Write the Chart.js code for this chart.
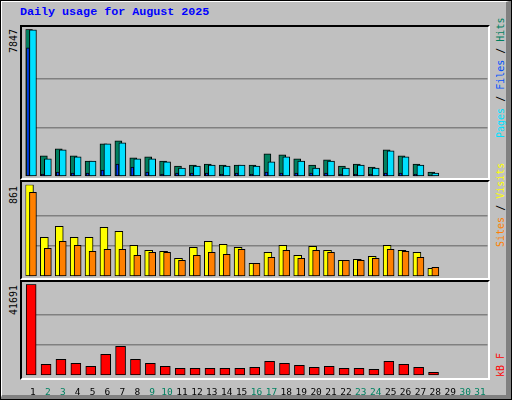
<!DOCTYPE html>
<html>
<head>
<meta charset="utf-8">
<script src="https://cdn.jsdelivr.net/npm/chart.js@4"></script>
<style>
  body { margin: 0; width: 512px; height: 400px; background: #C0C0C0; position: relative; overflow: hidden; font-family: "DejaVu Sans Mono", monospace; }
  #outer { position: absolute; left: 0; top: 0; border-top: 2px solid #fff; border-left: 2px solid #fff; border-right: 6px solid #808080; border-bottom: 5px solid #808080; box-sizing: border-box; width: 512px; height: 400px; outline: 1px solid #000; outline-offset: -1px; }
  .frame { position: absolute; left: 20px; width: 470px; border-top: 2px solid #000; border-left: 2px solid #000; border-right: 2px solid #fff; border-bottom: 2px solid #fff; box-sizing: border-box; }
  canvas { position: absolute; left: 20px; }
  #title { position: absolute; left: 20px; top: 5px; color: #0000FF; font: bold 11.7px "Liberation Mono", "DejaVu Sans Mono", monospace; }
  .rot { position: absolute; transform-origin: 0 0; transform: rotate(-90deg); white-space: nowrap; font-size: 10px; line-height: 10px; }
</style>
</head>
<body>
<div id="outer"></div>
<div id="title">Daily usage for August 2025</div>
<div class="frame" style="top:25px;height:155px"></div>
<div class="frame" style="top:180px;height:100px"></div>
<div class="frame" style="top:280px;height:100px"></div>
<canvas id="c1" width="470" height="155" style="top:25px;width:470px;height:155px"></canvas>
<canvas id="c2" width="470" height="100" style="top:180px;width:470px;height:100px"></canvas>
<canvas id="c3" width="470" height="120" style="top:280px;width:470px;height:120px"></canvas>

<div class="rot" style="left:9px;top:53px;color:#000">7847</div>
<div class="rot" style="left:9px;top:204px;color:#000">861</div>
<div class="rot" style="left:9px;top:315px;color:#000">41691</div>
<div class="rot" style="left:496px;top:138px;font-size:10px"><span style="color:#00E0FF">Pages</span> / <span style="color:#0050FF">Files</span> / <span style="color:#008060">Hits</span></div>
<div class="rot" style="left:496px;top:247px;font-size:10px"><span style="color:#FF8000">Sites</span> / <span style="color:#FFFF00">Visits</span></div>
<div class="rot" style="left:496px;top:377px;font-size:10px;color:#FF0000">kB F</div>

<script>
const days = Array.from({ length: 31 }, (_, i) => String(i + 1));
const weekendDays = ['2', '3', '9', '10', '16', '17', '23', '24', '30', '31'];

const hits  = [7847, 1105, 1479, 1105, 838, 1746, 1906, 998, 1052, 838, 571, 625, 678, 625, 625, 625, 1212, 1159, 945, 625, 892, 571, 678, 518, 1426, 1105, 678, 250, null, null, null];
const files = [7820, 945, 1426, 1052, 838, 1746, 1800, 945, 945, 785, 464, 571, 625, 571, 625, 571, 785, 1052, 838, 464, 838, 464, 625, 464, 1372, 1052, 625, 197, null, null, null];
const pages = [6860, 144, 250, 197, 197, 357, 678, 518, 250, 144, 197, 197, 197, 144, 197, 144, 250, 197, 197, 197, 197, 144, 144, 144, 197, 197, 144, 37, null, null, null];
const visits = [861, 368, 471, 368, 368, 462, 424, 293, 246, 237, 172, 275, 331, 303, 275, 125, 228, 293, 200, 284, 246, 153, 162, 190, 293, 246, 228, 78, null, null, null];
const sites  = [789, 265, 331, 293, 237, 256, 256, 200, 228, 228, 153, 200, 228, 209, 256, 125, 181, 246, 172, 246, 228, 153, 153, 172, 256, 237, 181, 87, null, null, null];
const kbytes = [41691, 5175, 7457, 5631, 4261, 9740, 13392, 7457, 5631, 4261, 3348, 3348, 3348, 3348, 3348, 3805, 6544, 5631, 4718, 3805, 4261, 3348, 3348, 2892, 6544, 5175, 3805, 1522, null, null, null];

const shiftPlugin = {
    id: 'shift',
    afterDatasetsUpdate(chart) {
        chart.data.datasets.forEach((ds, i) => {
            chart.getDatasetMeta(i).data.forEach(el => { el.x += ds.shift || 0; });
        });
    }
};

function bar(label, data, color, width, shift, order) {
    return { label, data, backgroundColor: color, borderColor: '#000', borderWidth: 1,
        borderSkipped: false, barThickness: width, shift, order, grouped: false };
}

function makeChart(id, datasets, max, pad, showX) {
    const x = {
        display: showX,
        grid: { display: false }, border: { display: false },
        ticks: {
            padding: 3, maxRotation: 0, autoSkip: false,
            font: { family: 'DejaVu Sans Mono', size: 9.5 },
            color: (c) => weekendDays.includes(days[c.index]) ? '#008060' : '#000'
        }
    };
    if (showX) x.afterFit = (s) => { s.height = 24; };
    return new Chart(document.getElementById(id), {
        type: 'bar',
        data: { labels: days, datasets },
        plugins: [shiftPlugin],
        options: {
            responsive: false, animation: false, events: [],
            layout: { padding: pad },
            plugins: { legend: { display: false }, tooltip: { enabled: false } },
            scales: {
                x,
                y: {
                    min: 0, max,
                    ticks: { display: false, count: 4 },
                    border: { display: false },
                    grid: { drawTicks: false, lineWidth: 1.5,
                        color: (c) => (c.index === 0 || c.index === 3) ? 'rgba(0,0,0,0)' : '#808080' },
                    afterFit: (s) => { s.width = 0; }
                }
            }
        }
    });
}

makeChart('c1', [
    bar('Pages', pages, '#0040FF', 3, -5, 0),
    bar('Files', files, '#00E0FF', 7, 0, 1),
    bar('Hits', hits, '#008060', 7, -4, 2)
], 7847, { left: 5.5, right: 2.5, top: 4.3, bottom: 3.3 }, false);

makeChart('c2', [
    bar('Sites', sites, '#FF8000', 7, 0, 0),
    bar('Visits', visits, '#FFFF00', 8, -3.5, 1)
], 861, { left: 5.5, right: 2.5, top: 4.7, bottom: 3.3 }, false);

makeChart('c3', [
    bar('kB F', kbytes, '#FF0000', 10, -1.8, 0)
], 41691, { left: 5.5, right: 2.5, top: 4.3, bottom: 0.3 }, true);
</script>
</body>
</html>
